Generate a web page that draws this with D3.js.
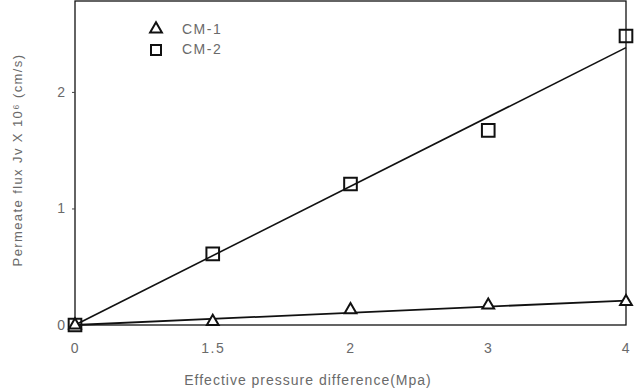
<!DOCTYPE html>
<html><head><meta charset="utf-8">
<script src="https://cdn.jsdelivr.net/npm/d3@7"></script>
<style>body{margin:0;background:#fff}svg{display:block}</style>
</head><body><svg id="c" width="640" height="389"></svg>
<script>
const categories = ["0","1.5","2","3","4"];
const cm1 = [0, 0.03, 0.13, 0.17, 0.2];
const cm2 = [0, 0.61, 1.21, 1.67, 2.48];
const fitX = ["0","4"];
const fitCM1 = [0, 0.21];
const fitCM2 = [0, 2.38];
const yTicks = [0,1,2];
const seriesNames = ["CM-1","CM-2"];

const svg = d3.select("#c");
const L=75, R=626, T=1, B=325;
const x = d3.scalePoint().domain(categories).range([L,R]);
const y = d3.scaleLinear().domain([0,2.78]).range([B,T]);
const font = "'Liberation Sans', Arial, sans-serif";
const tc = "#6a6a6a";

// frame
svg.append("rect").attr("x",L).attr("y",T).attr("width",R-L).attr("height",B-T)
  .attr("fill","none").attr("stroke","#111").attr("stroke-width",1.3);

// y axis
const ya = svg.append("g").attr("transform",`translate(${L},0)`)
  .call(d3.axisLeft(y).tickValues(yTicks).tickSize(3).tickPadding(7).tickFormat(d3.format("d")));
ya.select(".domain").remove();
ya.selectAll("line").attr("stroke","#444");
ya.selectAll("text").attr("font-family",font).attr("font-size",14).attr("fill",tc);

// x axis
const xa = svg.append("g").attr("transform",`translate(0,${B})`)
  .call(d3.axisBottom(x).tickSize(0).tickPadding(18));
xa.select(".domain").remove();
xa.selectAll("text").attr("font-family",font).attr("font-size",14).attr("letter-spacing",1.5).attr("fill",tc);

// fit lines
const line = d3.line().x(d=>x(d[0])).y(d=>y(d[1]));
svg.append("path").datum(fitX.map((c,i)=>[c,fitCM2[i]])).attr("d",line)
  .attr("fill","none").attr("stroke","#111").attr("stroke-width",1.6);
svg.append("path").datum(fitX.map((c,i)=>[c,fitCM1[i]])).attr("d",line)
  .attr("fill","none").attr("stroke","#111").attr("stroke-width",1.8);

const tri = d3.symbol().type(d3.symbolTriangle).size(60);
const sq = d3.symbol().type(d3.symbolSquare).size(160);

svg.append("g").selectAll("path").data(categories.map((c,i)=>[c,cm2[i]])).join("path")
  .attr("d",sq).attr("transform",d=>`translate(${x(d[0])},${y(d[1])})`)
  .attr("fill","none").attr("stroke","#111").attr("stroke-width",2);
svg.append("g").selectAll("path").data(categories.map((c,i)=>[c,cm1[i]])).join("path")
  .attr("d",tri).attr("transform",d=>`translate(${x(d[0])},${y(d[1])})`)
  .attr("fill","#fff").attr("stroke","#111").attr("stroke-width",2);

// legend
const lg = svg.append("g");
lg.append("path").attr("d",tri).attr("transform","translate(156,29)")
  .attr("fill","#fff").attr("stroke","#111").attr("stroke-width",2);
lg.append("path").attr("d",d3.symbol().type(d3.symbolSquare).size(100)).attr("transform","translate(156,50)")
  .attr("fill","#fff").attr("stroke","#111").attr("stroke-width",2);
seriesNames.forEach((n,i)=>{
  lg.append("text").attr("x",182).attr("y",34+i*20).text(n)
    .attr("font-family",font).attr("font-size",14).attr("letter-spacing",1.5).attr("fill",tc);
});

// titles
svg.append("text").attr("transform","translate(22,160) rotate(-90)").attr("text-anchor","middle")
  .attr("font-family",font).attr("font-size",13).attr("letter-spacing",1.4).attr("fill",tc)
  .text("Permeate flux Jv X 10⁶ (cm/s)");
svg.append("text").attr("x",308).attr("y",385).attr("text-anchor","middle")
  .attr("font-family",font).attr("font-size",14).attr("letter-spacing",1).attr("fill",tc)
  .text("Effective pressure difference(Mpa)");
</script></body></html>
